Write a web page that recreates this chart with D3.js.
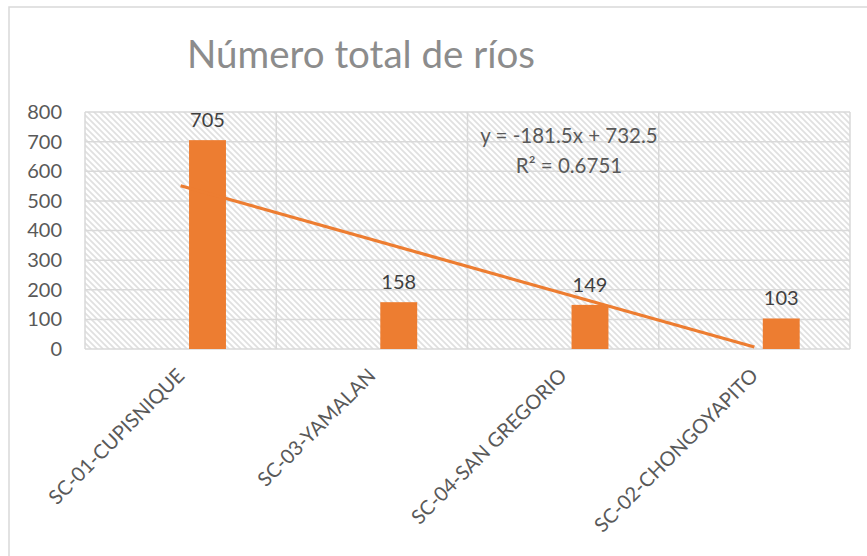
<!DOCTYPE html>
<html>
<head>
<meta charset="utf-8">
<script src="https://cdn.jsdelivr.net/npm/d3@7"></script>
<style>
  body { margin: 0; background: #fff; }
  text { font-family: Lato, "Open Sans", sans-serif; }
</style>
</head>
<body>
<div id="chart"></div>
<script>
// chart data
var categories = ["SC-01-CUPISNIQUE", "SC-03-YAMALAN", "SC-04-SAN GREGORIO", "SC-02-CHONGOYAPITO"];
var rios = [705, 158, 149, 103];
var yTicks = [0, 100, 200, 300, 400, 500, 600, 700, 800];
var title = "Número total de ríos";

var svgWidth = 867;
var svgHeight = 556;
var plot = { left: 85, right: 850, top: 112, bottom: 349 };
var orange = "#ED7D31";
var grid = "#d9d9d9";

var svg = d3
  .select("#chart")
  .append("svg")
  .attr("width", svgWidth)
  .attr("height", svgHeight);

svg.append("rect").attr("width", svgWidth).attr("height", svgHeight).attr("fill", "#fff");

// hatch pattern for the plot area
var pat = svg
  .append("defs")
  .append("pattern")
  .attr("id", "hatch")
  .attr("patternUnits", "userSpaceOnUse")
  .attr("width", 6)
  .attr("height", 6);
pat.append("rect").attr("width", 6).attr("height", 6).attr("fill", "#fff");
pat
  .append("path")
  .attr("d", "M-1,-1 L7,7 M-4,2 L4,10 M2,-4 L10,4")
  .attr("stroke", "#e0e0e0")
  .attr("stroke-width", 1.7);

// outer border (only top and left visible)
svg
  .append("path")
  .attr("d", `M9,${svgHeight} L9,7 L${svgWidth},7`)
  .attr("fill", "none")
  .attr("stroke", grid)
  .attr("stroke-width", 1.5);

// title
svg
  .append("text")
  .attr("x", 361)
  .attr("y", 68)
  .attr("text-anchor", "middle")
  .attr("font-size", "38.5px")
  .attr("fill", "#8c8c8c")
  .text(title);

// scales
var xScale = d3
  .scaleBand()
  .domain(categories)
  .range([plot.left, plot.right])
  .padding(0);
var bw = xScale.bandwidth();

var yScale = d3
  .scaleLinear()
  .domain([0, 800])
  .range([plot.bottom, plot.top]);

// plot background
svg
  .append("rect")
  .attr("x", plot.left)
  .attr("y", plot.top)
  .attr("width", plot.right - plot.left)
  .attr("height", plot.bottom - plot.top)
  .attr("fill", "url(#hatch)");

// gridlines
svg
  .append("g")
  .selectAll("line")
  .data(yTicks)
  .enter()
  .append("line")
  .attr("x1", plot.left)
  .attr("x2", plot.right)
  .attr("y1", d => yScale(d))
  .attr("y2", d => yScale(d))
  .attr("stroke", grid)
  .attr("stroke-width", 1.5);

var bounds = categories.map(c => xScale(c)).concat([plot.right]);
svg
  .append("g")
  .selectAll("line")
  .data(bounds)
  .enter()
  .append("line")
  .attr("x1", d => d)
  .attr("x2", d => d)
  .attr("y1", plot.top)
  .attr("y2", plot.bottom)
  .attr("stroke", grid)
  .attr("stroke-width", 1.5);

// y axis labels
var leftAxis = d3.axisLeft(yScale).tickValues(yTicks).tickSize(0).tickPadding(0);
var yAxisG = svg
  .append("g")
  .attr("transform", "translate(62,0)")
  .call(leftAxis);
yAxisG.select(".domain").remove();
yAxisG
  .selectAll("text")
  .attr("font-family", "Lato, sans-serif")
  .attr("font-size", "20px")
  .attr("fill", "#595959");

// x axis labels
var xAxisG = svg
  .append("g")
  .call(d3.axisBottom(xScale).tickSize(0));
xAxisG.select(".domain").remove();
xAxisG
  .selectAll("text")
  .attr("font-family", "Lato, sans-serif")
  .attr("font-size", "20px")
  .attr("fill", "#595959")
  .attr("text-anchor", "end")
  .attr("y", 0)
  .attr("dy", 0)
  .attr("transform", d => `translate(${xScale(d) + bw / 2 + 5}, 377) rotate(-45)`);
xAxisG.selectAll(".tick").attr("transform", null);

// bars
var barOff = bw * 0.544;
var barW = bw * 0.193;
var data = categories.map((c, i) => ({ cat: c, val: rios[i] }));
svg
  .append("g")
  .selectAll("rect")
  .data(data)
  .enter()
  .append("rect")
  .attr("x", d => xScale(d.cat) + barOff)
  .attr("y", d => yScale(d.val))
  .attr("width", barW)
  .attr("height", d => plot.bottom - yScale(d.val))
  .attr("fill", orange);

// data labels
svg
  .append("g")
  .selectAll("text")
  .data(data)
  .enter()
  .append("text")
  .attr("x", d => xScale(d.cat) + barOff + barW / 2)
  .attr("y", d => yScale(d.val) - 13)
  .attr("text-anchor", "middle")
  .attr("font-size", "20px")
  .attr("fill", "#404040")
  .text(d => d.val);

// linear trendline (least squares on category index 1..n)
var xs = rios.map((v, i) => i + 1);
var mx = d3.mean(xs);
var my = d3.mean(rios);
var slope = d3.sum(xs, (x, i) => (x - mx) * (rios[i] - my)) / d3.sum(xs, x => (x - mx) * (x - mx));
var intercept = my - slope * mx;
var ssTot = d3.sum(rios, v => (v - my) * (v - my));
var ssRes = d3.sum(xs, (x, i) => Math.pow(rios[i] - (slope * x + intercept), 2));
var r2 = 1 - ssRes / ssTot;

var trend = [xs[0], xs[xs.length - 1]].map(x => ({
  x: xScale(categories[x - 1]) + bw / 2,
  y: yScale(slope * x + intercept)
}));
svg
  .append("path")
  .datum(trend)
  .attr("d", d3.line().x(d => d.x).y(d => d.y))
  .attr("stroke", orange)
  .attr("stroke-width", 3.2)
  .attr("fill", "none");

// equation
svg
  .append("text")
  .attr("x", 569)
  .attr("y", 143)
  .attr("text-anchor", "middle")
  .attr("font-size", "20.5px")
  .attr("fill", "#595959")
  .text(`y = ${slope.toFixed(1)}x + ${intercept.toFixed(1)}`);
svg
  .append("text")
  .attr("x", 569)
  .attr("y", 173)
  .attr("text-anchor", "middle")
  .attr("font-size", "20.5px")
  .attr("fill", "#595959")
  .text(`R² = ${r2.toFixed(4)}`);
</script>
</body>
</html>
